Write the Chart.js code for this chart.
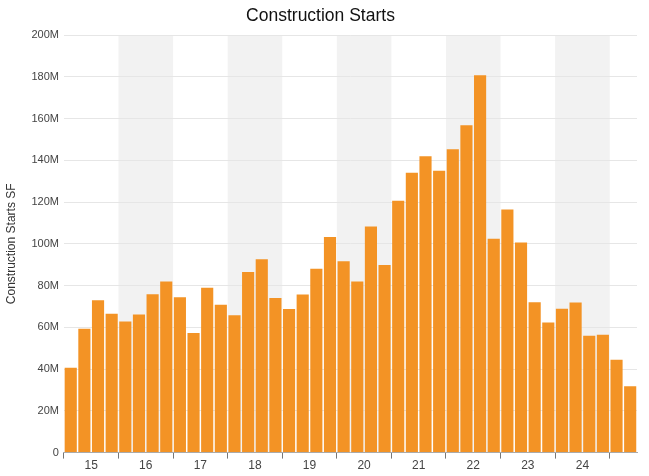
<!DOCTYPE html>
<html>
<head>
<meta charset="utf-8">
<title>Construction Starts</title>
<script src="https://cdn.jsdelivr.net/npm/chart.js@4.4.1/dist/chart.umd.min.js"></script>
<style>
  html, body { margin: 0; padding: 0; background: #fff; }
  #wrap { width: 649px; height: 476px; }
</style>
</head>
<body>
<div id="wrap"><canvas id="myChart"></canvas></div>
<script>
// quarterly construction starts, millions of SF (2015 Q1 .. 2025 Q2)
var quarters = [
  '2015 Q1', '2015 Q2', '2015 Q3', '2015 Q4',
  '2016 Q1', '2016 Q2', '2016 Q3', '2016 Q4',
  '2017 Q1', '2017 Q2', '2017 Q3', '2017 Q4',
  '2018 Q1', '2018 Q2', '2018 Q3', '2018 Q4',
  '2019 Q1', '2019 Q2', '2019 Q3', '2019 Q4',
  '2020 Q1', '2020 Q2', '2020 Q3', '2020 Q4',
  '2021 Q1', '2021 Q2', '2021 Q3', '2021 Q4',
  '2022 Q1', '2022 Q2', '2022 Q3', '2022 Q4',
  '2023 Q1', '2023 Q2', '2023 Q3', '2023 Q4',
  '2024 Q1', '2024 Q2', '2024 Q3', '2024 Q4',
  '2025 Q1', '2025 Q2'
];
var starts = [
  40.6, 59.3, 73.0, 66.5,
  62.8, 66.1, 75.8, 82.0,
  74.4, 57.3, 79.0, 70.8,
  65.8, 86.5, 92.6, 74.0,
  68.8, 75.7, 88.1, 103.3,
  91.7, 81.9, 108.3, 89.9,
  120.6, 134.0, 141.9, 135.0,
  145.3, 156.8, 180.7, 102.4,
  116.4, 100.6, 72.0, 62.3,
  68.9, 71.9, 56.0, 56.4,
  44.5, 31.8
];
var yearLabels = ['15', '16', '17', '18', '19', '20', '21', '22', '23', '24'];
var shadedYears = [1, 3, 5, 7, 9]; // 16, 18, 20, 22, 24
var yearSpan = quarters.length / 4;

var FONT = '"Liberation Sans", Arial, Helvetica, sans-serif';

var bandPlugin = {
  id: 'yearBands',
  beforeDraw: function (chart) {
    var ctx = chart.ctx;
    var area = chart.chartArea;
    var yr = chart.scales.yr;
    ctx.save();
    ctx.fillStyle = '#f2f2f2';
    shadedYears.forEach(function (i) {
      var x0 = yr.getPixelForValue(i);
      var x1 = yr.getPixelForValue(i + 1);
      ctx.fillRect(x0, area.top, x1 - x0, area.bottom - area.top);
    });
    ctx.restore();
  }
};

var ctx = document.getElementById('myChart').getContext('2d');
var myChart = new Chart(ctx, {
  type: 'bar',
  data: {
    labels: quarters,
    datasets: [{
      label: 'Construction Starts SF',
      data: starts,
      backgroundColor: '#f39325',
      barPercentage: 0.89,
      categoryPercentage: 1.0
    }]
  },
  options: {
    responsive: true,
    maintainAspectRatio: false,
    animation: false,
    layout: { padding: { left: 4, right: 12, bottom: 3 } },
    plugins: {
      legend: { display: false },
      tooltip: { enabled: false },
      title: {
        display: true,
        text: 'Construction Starts',
        color: '#111',
        font: { family: FONT, size: 17.5, weight: 'normal' },
        padding: { top: 6, bottom: 8 }
      }
    },
    scales: {
      x: {
        display: false,
        offset: true
      },
      yr: {
        type: 'linear',
        position: 'bottom',
        bounds: 'data',
        offset: false,
        min: 0,
        max: yearSpan,
        ticks: {
          stepSize: 0.5,
          autoSkip: false,
          maxRotation: 0,
          padding: 0,
          color: '#444',
          font: { family: FONT, size: 12 },
          callback: function (v) {
            var i = Math.floor(v);
            return (v - i === 0.5 && yearLabels[i]) ? yearLabels[i] : '';
          }
        },
        grid: {
          offset: false,
          drawOnChartArea: false,
          tickLength: 6,
          color: function (c) {
            return (c.tick && Number.isInteger(c.tick.value) && c.tick.value < yearSpan) ? '#777' : 'rgba(0,0,0,0)';
          }
        },
        border: { display: true, color: '#aaa', width: 1 }
      },
      y: {
        min: 0,
        max: 200,
        ticks: {
          stepSize: 20,
          padding: 5,
          color: '#444',
          font: { family: FONT, size: 11 },
          callback: function (v) { return v === 0 ? '0' : v + 'M'; }
        },
        grid: { color: '#e6e6e6', drawTicks: false },
        border: { display: false },
        title: {
          display: true,
          text: 'Construction Starts SF',
          color: '#333',
          font: { family: FONT, size: 12 },
          padding: { top: 0, bottom: 8 }
        }
      }
    }
  },
  plugins: [bandPlugin]
});
</script>
</body>
</html>
